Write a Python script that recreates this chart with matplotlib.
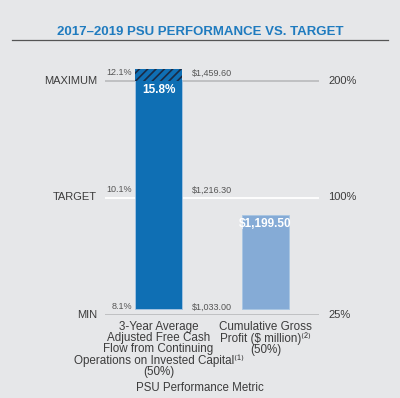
import matplotlib
matplotlib.use("Agg")
import matplotlib.pyplot as plt

plt.rcParams['font.family'] = ['Liberation Sans', 'DejaVu Sans']
plt.rcParams['hatch.linewidth'] = 1.2

# data
categories = [
    "3-Year Average\nAdjusted Free Cash\nFlow from Continuing\nOperations on Invested Capital\u207d\u00b9\u207e\n(50%)",
    "Cumulative Gross\nProfit ($ million)\u207d\u00b2\u207e\n(50%)",
]
level_names = ["MIN", "TARGET", "MAXIMUM"]
payout_labels = ["25%", "100%", "200%"]
fcf_thresholds = ["8.1%", "10.1%", "12.1%"]
gp_thresholds = ["$1,033.00", "$1,216.30", "$1,459.60"]
# bar tops on the performance scale (0 = min, 1 = target, 2 = max)
bar_tops = [2.10, 0.85]
bar_labels = ["15.8%", "$1,199.50"]
cap_level = 2.0

bg = "#e6e7e9"
text_col = "#3c3c3c"
bar_colors = ["#0f6fb4", "#85abd6"]

fig = plt.figure(figsize=(4.0, 3.98), dpi=100, facecolor=bg)
ax = fig.add_axes([105 / 400, (398 - 314.5) / 398, 214 / 400, 2.3 * 117 / 398])
ax.set_facecolor(bg)
ax.set_xlim(-0.5, 1.5)
ax.set_ylim(0, 2.3)
ax.axis('off')

# reference lines
for lvl in range(3):
    ax.axhline(lvl, color="white" if lvl == 1 else "#bdbec0", lw=1.3, zorder=1)

# bars
for i, top in enumerate(bar_tops):
    shown = min(top, cap_level)
    ax.bar(i, shown - 0.05, bottom=0.05, width=0.44, color=bar_colors[i],
           edgecolor="#a9c6e3", lw=0.6, zorder=2)
    if top > cap_level:
        ax.bar(i, top - cap_level, bottom=cap_level, width=0.44, color=bar_colors[i],
               edgecolor="#1b2b44", hatch="////", lw=0, zorder=3)
    ax.annotate(bar_labels[i], xy=(i, shown), xytext=(0, -6.5), textcoords="offset points",
                ha="center", va="center", color="white", fontsize=8.5, fontweight="bold", zorder=4)

# level labels
for lvl in range(3):
    ax.text(-0.037, lvl, level_names[lvl], transform=ax.get_yaxis_transform(),
            ha="right", va="center", fontsize=8, color=text_col)
    ax.text(1.042, lvl, payout_labels[lvl], transform=ax.get_yaxis_transform(),
            ha="left", va="center", fontsize=8, color=text_col)
    ax.text(0.126, lvl + 0.065, fcf_thresholds[lvl], transform=ax.get_yaxis_transform(),
            ha="right", va="center", fontsize=6.5, color="#555555")
    ax.text(0.407, lvl + 0.065, gp_thresholds[lvl], transform=ax.get_yaxis_transform(),
            ha="left", va="center", fontsize=6.5, color="#555555")

# category labels
for i, cat in enumerate(categories):
    ax.annotate(cat, xy=(i, 0), xytext=(0, -4.5), textcoords="offset points",
                ha="center", va="top", fontsize=8.4, color=text_col,
                linespacing=0.92, annotation_clip=False)

fig.text(0.5, 1 - 388 / 398, "PSU Performance Metric", ha="center", va="center",
         fontsize=8.3, color=text_col)

# title
fig.text(0.5, 1 - 32 / 398, "2017\u20132019 PSU PERFORMANCE VS. TARGET", ha="center",
         va="center", fontsize=9.5, fontweight="bold", color="#1f7bbf")
fig.add_artist(plt.Line2D([12 / 400, 388 / 400], [1 - 40 / 398, 1 - 40 / 398],
                          color="#555555", lw=0.9))

fig.savefig("out.png", dpi=100, facecolor=bg)
